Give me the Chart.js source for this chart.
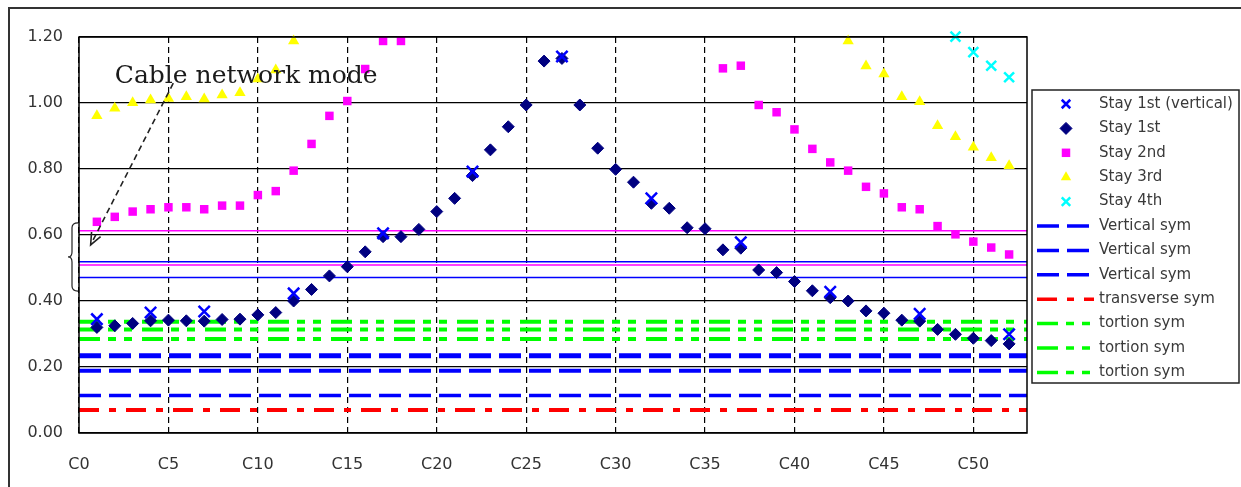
<!DOCTYPE html>
<html>
<head>
<meta charset="utf-8">
<title>Stay cable natural frequencies</title>
<script src="https://cdn.jsdelivr.net/npm/chart.js@4.4.1/dist/chart.umd.min.js"></script>
<style>
  html, body { margin:0; padding:0; background:#fff; }
  #wrap { width:1241px; height:487px; }
</style>
</head>
<body>
<div id="wrap"><canvas id="chart" width="1241" height="487"></canvas></div>
<script>
// cable number on the x axis, C0 .. C53
const X_MIN = 0, X_MAX = 53;
const tickLabels = ['C0','C5','C10','C15','C20','C25','C30','C35','C40','C45','C50'];

// frequencies per cable, index = cable number (null = not shown)
const stay1stVertical = [
  null,
  0.345, null, null, 0.365, null, null, 0.368, null, null, null,
  null, 0.423, null, null, null, null, 0.605, null, null, null,
  null, 0.792, null, null, null, null, 1.141, null, null, null,
  null, 0.711, null, null, null, null, 0.578, null, null, null,
  null, 0.428, null, null, null, null, 0.361, null, null, null,
  null, 0.299
];
const stay1st = [
  null,
  0.320, 0.325, 0.332, 0.340, 0.342, 0.340, 0.339, 0.344, 0.345, 0.358,
  0.365, 0.400, 0.435, 0.476, 0.504, 0.549, 0.595, 0.595, 0.617, 0.671,
  0.711, 0.780, 0.858, 0.928, 0.994, 1.127, 1.135, 0.994, 0.863, 0.799,
  0.760, 0.696, 0.681, 0.622, 0.619, 0.555, 0.560, 0.494, 0.486, 0.459,
  0.431, 0.410, 0.400, 0.370, 0.363, 0.342, 0.339, 0.314, 0.299, 0.287,
  0.280, 0.270
];
const stay2nd = [
  null,
  0.640, 0.655, 0.671, 0.678, 0.684, 0.684, 0.678, 0.689, 0.689, 0.721,
  0.733, 0.795, 0.876, 0.961, 1.006, 1.103, 1.188, 1.188, null, null,
  null, null, null, null, null, null, null, null, null, null,
  null, null, null, null, null, 1.105, 1.113, 0.994, 0.972, 0.920,
  0.861, 0.820, 0.795, 0.746, 0.726, 0.684, 0.678, 0.627, 0.602, 0.580,
  0.562, 0.541
];
const stay3rd = [
  null,
  0.961, 0.984, 1.001, 1.009, 1.014, 1.019, 1.012, 1.024, 1.031, 1.073,
  1.100, 1.188, null, null, null, null, null, null, null, null,
  null, null, null, null, null, null, null, null, null, null,
  null, null, null, null, null, null, null, null, null, null,
  null, null, 1.188, 1.112, 1.088, 1.019, 1.004, 0.931, 0.898, 0.866,
  0.834, 0.810
];
const stay4th = [
  null,
  null, null, null, null, null, null, null, null, null, null,
  null, null, null, null, null, null, null, null, null, null,
  null, null, null, null, null, null, null, null, null, null,
  null, null, null, null, null, null, null, null, null, null,
  null, null, null, null, null, null, null, null, 1.201, 1.154,
  1.113, 1.078
];

// girder mode frequencies (horizontal reference lines)
const verticalSym = [0.234, 0.189, 0.114];
const transverseSym = [0.070];
const tortionSym = [0.337, 0.314, 0.285];
const bandMagenta = [0.613, 0.509];
const bandBlue = [0.519, 0.471];

function toPoints(values){
  const pts = [];
  values.forEach((v, i) => { if (v !== null) pts.push({x: i, y: v}); });
  return pts;
}
function flatLine(y){ return [{x: X_MIN, y}, {x: X_MAX, y}]; }

function markerSet(label, values, style, color, radius, width){
  return {
    label, data: toPoints(values), showLine: false, clip: false,
    pointStyle: style, pointRadius: radius, pointHoverRadius: radius,
    backgroundColor: color, borderColor: color, pointBorderWidth: width
  };
}
function lineSet(label, y, color, width, dash, inLegend){
  return {
    label, data: flatLine(y), showLine: true, pointRadius: 0, pointHoverRadius: 0,
    borderColor: color, backgroundColor: color, borderWidth: width, borderDash: dash,
    inLegend
  };
}

const BLUE_DASH = [22, 8];
const RED_DASH = [20, 10, 7, 10];
const GREEN_DASH = [21, 8, 8, 8, 8, 10];
const vWidths = [5, 4, 3.5];

const datasets = [
  markerSet('Stay 1st (vertical)', stay1stVertical, 'crossRot', '#0000ff', 8, 2.5),
  markerSet('Stay 1st', stay1st, 'rectRot', '#000080', 6, 1),
  markerSet('Stay 2nd', stay2nd, 'rect', '#ff00ff', 6, 0),
  markerSet('Stay 3rd', stay3rd, 'triangle', '#ffff00', 6.5, 0),
  markerSet('Stay 4th', stay4th, 'crossRot', '#00ffff', 7, 2.5)
];
datasets.forEach(d => d.inLegend = true);
verticalSym.forEach((v, i) => datasets.push(lineSet('Vertical sym', v, '#0000ff', vWidths[i], BLUE_DASH, true)));
transverseSym.forEach(v => datasets.push(lineSet('transverse sym', v, '#ff0000', 4, RED_DASH, true)));
tortionSym.forEach(v => datasets.push(lineSet('tortion sym', v, '#00ff00', 4, GREEN_DASH, true)));
bandMagenta.forEach(v => datasets.push(lineSet('', v, '#ff00ff', 1.5, [], false)));
bandBlue.forEach(v => datasets.push(lineSet('', v, '#0000ff', 1.5, [], false)));

// frame, annotation (text, dashed arrow, brace) and the boxed legend
const decorations = {
  id: 'decorations',
  beforeDraw(chart){
    const ctx = chart.ctx;
    ctx.save();
    ctx.strokeStyle = '#333';
    ctx.lineWidth = 2;
    ctx.strokeRect(9, 8, 1260, 520);
    ctx.restore();
  },
  afterDraw(chart){
    const ctx = chart.ctx, a = chart.chartArea;
    const xs = chart.scales.x, ys = chart.scales.y;
    ctx.save();

    // plot frame
    ctx.strokeStyle = '#000';
    ctx.lineWidth = 1.5;
    ctx.setLineDash([]);
    ctx.strokeRect(a.left, a.top, a.right - a.left, a.bottom - a.top);

    // "Cable network mode" note
    ctx.fillStyle = '#1a1a1a';
    ctx.font = '25px "DejaVu Serif"';
    ctx.textBaseline = 'middle';
    ctx.textAlign = 'left';
    ctx.fillText('Cable network mode', xs.getPixelForValue(2.0), ys.getPixelForValue(1.079));

    // dashed arrow to the brace
    const x1 = xs.getPixelForValue(5.27), y1 = ys.getPixelForValue(1.06);
    const x2 = xs.getPixelForValue(0.65), y2 = ys.getPixelForValue(0.57);
    ctx.strokeStyle = '#222';
    ctx.lineWidth = 1.6;
    ctx.setLineDash([6, 4]);
    ctx.beginPath(); ctx.moveTo(x1, y1); ctx.lineTo(x2, y2); ctx.stroke();
    ctx.setLineDash([]);
    const ang = Math.atan2(y1 - y2, x1 - x2);
    ctx.beginPath();
    ctx.moveTo(x2 + 13 * Math.cos(ang - 0.4), y2 + 13 * Math.sin(ang - 0.4));
    ctx.lineTo(x2, y2);
    ctx.lineTo(x2 + 13 * Math.cos(ang + 0.4), y2 + 13 * Math.sin(ang + 0.4));
    ctx.stroke();

    // brace left of the axis
    const bt = ys.getPixelForValue(0.637), bb = ys.getPixelForValue(0.43);
    const bm = (bt + bb) / 2, bx = a.left - 7, r = 5;
    ctx.lineWidth = 1.2;
    ctx.beginPath();
    ctx.moveTo(a.left - 1, bt);
    ctx.quadraticCurveTo(bx, bt, bx, bt + r);
    ctx.lineTo(bx, bm - r);
    ctx.quadraticCurveTo(bx, bm, bx - 4, bm);
    ctx.quadraticCurveTo(bx, bm, bx, bm + r);
    ctx.lineTo(bx, bb - r);
    ctx.quadraticCurveTo(bx, bb, a.left - 1, bb);
    ctx.stroke();

    // legend box
    const L = 1032, T = 90, R = 1239, B = 383;
    ctx.fillStyle = '#fff';
    ctx.fillRect(L, T, R - L, B - T);
    ctx.strokeStyle = '#222';
    ctx.lineWidth = 1.5;
    ctx.strokeRect(L, T, R - L, B - T);
    ctx.font = '15px "DejaVu Sans"';
    ctx.textBaseline = 'middle';
    let row = 0;
    chart.data.datasets.forEach(ds => {
      if (!ds.inLegend) return;
      const y = T + 14 + row * 24.4;
      ctx.save();
      if (ds.showLine) {
        ctx.strokeStyle = ds.borderColor;
        ctx.lineWidth = 3.5;
        ctx.setLineDash(ds.borderDash);
        ctx.beginPath(); ctx.moveTo(1037, y); ctx.lineTo(1094, y); ctx.stroke();
      } else {
        ctx.fillStyle = ds.backgroundColor;
        ctx.strokeStyle = ds.borderColor;
        ctx.lineWidth = ds.pointBorderWidth;
        Chart.helpers.drawPoint(ctx, {
          pointStyle: ds.pointStyle, rotation: 0,
          radius: Math.min(ds.pointRadius, 6), borderWidth: ds.pointBorderWidth
        }, 1066, y);
      }
      ctx.restore();
      ctx.fillStyle = '#3a3a3a';
      ctx.fillText(ds.label, 1099, y);
      row++;
    });
    ctx.restore();
  }
};

new Chart(document.getElementById('chart'), {
  type: 'scatter',
  data: { datasets },
  options: {
    responsive: false,
    animation: false,
    events: [],
    layout: { padding: { left: 0, top: 37, right: 214, bottom: 0 } },
    plugins: { legend: { display: false }, tooltip: { enabled: false } },
    scales: {
      x: {
        type: 'linear', min: X_MIN, max: X_MAX,
        afterFit: s => { s.height = 54; },
        grid: { color: '#000', lineWidth: 1.2, drawTicks: false },
        border: { display: false, dash: [6, 4] },
        ticks: {
          stepSize: 5, includeBounds: false, padding: 22, maxRotation: 0,
          color: '#333', font: { family: 'DejaVu Sans', size: 16 },
          callback: v => tickLabels[v / 5]
        }
      },
      y: {
        min: 0, max: 1.2,
        afterFit: s => { s.width = 79; },
        grid: { color: '#000', lineWidth: 1.2, drawTicks: false },
        border: { display: false },
        ticks: {
          stepSize: 0.2, padding: 16,
          color: '#333', font: { family: 'DejaVu Sans', size: 16 },
          callback: v => v.toFixed(2)
        }
      }
    }
  },
  plugins: [decorations]
});
</script>
</body>
</html>
